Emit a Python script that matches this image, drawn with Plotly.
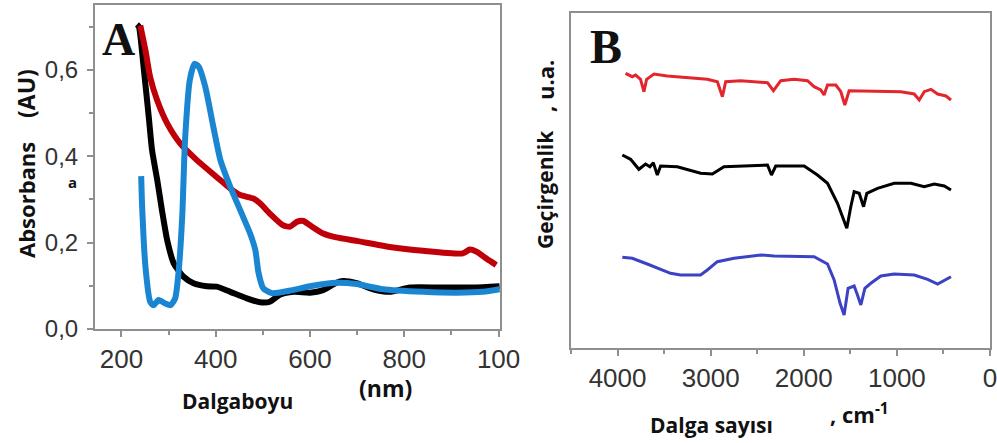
import plotly.graph_objects as go

# ---------------- Panel A: UV-Vis absorbance ----------------
a_black_nm = [233, 237, 247, 258, 265, 276, 286, 297, 311, 332, 353, 381, 402, 431, 466, 494, 515, 536, 565,
              600, 628, 656, 670, 699, 734, 769, 812, 875, 946, 1002]
a_black_abs = [0.705, 0.70, 0.607, 0.491, 0.414, 0.345, 0.275, 0.206, 0.152, 0.121, 0.106, 0.099, 0.098, 0.086,
               0.071, 0.062, 0.063, 0.079, 0.086, 0.084, 0.090, 0.107, 0.111, 0.106, 0.092, 0.086, 0.096, 0.096,
               0.096, 0.099]

a_red_nm = [240, 251, 261, 276, 297, 325, 360, 402, 431, 452, 480, 494, 515, 543, 558, 572, 586, 600, 628,
            656, 699, 769, 840, 924, 939, 953, 974, 995]
a_red_abs = [0.703, 0.645, 0.583, 0.529, 0.476, 0.429, 0.391, 0.352, 0.325, 0.310, 0.302, 0.291, 0.267, 0.240,
             0.237, 0.248, 0.250, 0.240, 0.221, 0.212, 0.204, 0.190, 0.181, 0.175, 0.184, 0.179, 0.163, 0.148]

a_blue_nm = [242, 244, 251, 261, 268, 279, 293, 304, 314, 321, 329, 335, 345, 355, 364, 378, 395, 410, 431,
             452, 473, 484, 491, 501, 519, 558, 600, 657, 699, 755, 840, 911, 967, 1002]
a_blue_abs = [0.354, 0.283, 0.144, 0.063, 0.055, 0.067, 0.059, 0.055, 0.071, 0.129, 0.260, 0.437, 0.576, 0.614,
              0.607, 0.560, 0.468, 0.391, 0.329, 0.275, 0.221, 0.183, 0.129, 0.094, 0.083, 0.089, 0.099, 0.107,
              0.104, 0.092, 0.086, 0.084, 0.086, 0.092]

a_xtick_vals = [200, 400, 600, 800, 1000]
a_xtick_text = ["200", "400", "600", "800", "100"]
a_ytick_vals = [0.0, 0.2, 0.4, 0.6]
a_ytick_text = ["0,0", "0,2", "0,4", "0,6"]

# ---------------- Panel B: FTIR transmittance (arb. units) ----------------
b_red_wn = [3914, 3842, 3806, 3753, 3717, 3688, 3609, 3466, 3036, 2928, 2874, 2839, 2677, 2390, 2326, 2247,
            2104, 1960, 1889, 1817, 1782, 1745, 1656, 1602, 1559, 1513, 957, 814, 760, 706, 634, 562, 473, 419]
b_red_t = [274.7, 271.3, 273, 268.7, 256.3, 268.7, 274, 272, 268.7, 266.3, 251.3, 266.3, 267.3, 265.3, 257.3,
           267.3, 268.7, 267.3, 261.3, 258, 253, 263, 263, 256.3, 243, 257.3, 256.3, 254, 248, 256.3, 258.7,
           254, 252, 248]

b_black_wn = [3949, 3860, 3771, 3699, 3653, 3616, 3573, 3538, 3358, 3108, 2982, 2857, 2390, 2347, 2301, 1996,
              1853, 1745, 1638, 1538, 1495, 1459, 1405, 1358, 1323, 1208, 1029, 849, 706, 599, 491, 419]
b_black_t = [193, 188.7, 178.7, 184, 181.3, 185.3, 173, 182, 181.3, 174.7, 174, 181.3, 183, 173, 182, 182, 173,
             164.7, 144.7, 119.7, 141.3, 156.3, 154.7, 141.3, 154.7, 159.7, 164.7, 164.7, 161.3, 164, 162, 158]

b_blue_wn = [3949, 3842, 3681, 3538, 3430, 3323, 3108, 3036, 2928, 2749, 2462, 2319, 1889, 1745, 1674, 1610,
             1567, 1524, 1459, 1430, 1387, 1344, 1280, 1172, 1029, 814, 670, 562, 491, 419]
b_blue_t = [90.7, 89.7, 84, 78.7, 74.7, 73, 73, 78, 86.3, 89.7, 93, 92, 91.3, 84, 68, 44.7, 33, 59.7, 62, 54.7,
            43, 59.7, 64.7, 72, 74, 73, 68.7, 64, 67.3, 71.3]

b_xtick_vals = [4000, 3000, 2000, 1000, 0]
b_xtick_text = ["4000", "3000", "2000", "1000", "0"]

W, H = 997, 443
AXIS_GREY = "#8f8f8f"
XTICK_FONT = dict(family="Liberation Sans, Arial, sans-serif", size=26, color="#333333")
YTICK_FONT = dict(family="Liberation Sans, Arial, sans-serif", size=24, color="#333333")
LBL_FONT = "Open Sans, sans-serif"


def px(x):
    return x / W


def py(y):
    return 1 - y / H


fig = go.Figure()

fig.add_trace(go.Scatter(x=a_black_nm, y=a_black_abs, mode="lines", line=dict(color="#000000", width=6, shape="spline", smoothing=0.6),
                         xaxis="x", yaxis="y", showlegend=False, hoverinfo="skip"))
fig.add_trace(go.Scatter(x=a_red_nm, y=a_red_abs, mode="lines", line=dict(color="#c00008", width=6, shape="spline", smoothing=0.6),
                         xaxis="x", yaxis="y", showlegend=False, hoverinfo="skip"))
fig.add_trace(go.Scatter(x=a_blue_nm, y=a_blue_abs, mode="lines", line=dict(color="#1a86d2", width=6, shape="spline", smoothing=0.6),
                         xaxis="x", yaxis="y", showlegend=False, hoverinfo="skip"))

fig.add_trace(go.Scatter(x=b_red_wn, y=b_red_t, mode="lines", line=dict(color="#e3262e", width=3),
                         xaxis="x2", yaxis="y2", showlegend=False, hoverinfo="skip"))
fig.add_trace(go.Scatter(x=b_black_wn, y=b_black_t, mode="lines", line=dict(color="#000000", width=3),
                         xaxis="x2", yaxis="y2", showlegend=False, hoverinfo="skip"))
fig.add_trace(go.Scatter(x=b_blue_wn, y=b_blue_t, mode="lines", line=dict(color="#3b42c4", width=3),
                         xaxis="x2", yaxis="y2", showlegend=False, hoverinfo="skip"))

common_axis = dict(showline=True, linecolor=AXIS_GREY, linewidth=2, mirror=True, showgrid=False, zeroline=False,
                   ticks="outside", ticklen=6, tickwidth=1.5, tickcolor=AXIS_GREY, automargin=False,
                   ticklabeloverflow="allow")

fig.update_layout(
    width=W, height=H,
    margin=dict(l=0, r=0, t=0, b=0, autoexpand=False),
    paper_bgcolor="white", plot_bgcolor="white",
    xaxis=dict(domain=[px(95), px(500)], range=[144, 1003], anchor="y",
               tickmode="array", tickvals=a_xtick_vals, ticktext=a_xtick_text, tickfont=XTICK_FONT,
               minor=dict(tickmode="linear", tick0=100, dtick=200, ticks="outside", ticklen=4, tickcolor=AXIS_GREY),
               **common_axis),
    yaxis=dict(domain=[py(329), py(5)], range=[0, 0.75], anchor="x",
               tickmode="array", tickvals=a_ytick_vals, ticktext=a_ytick_text, tickfont=YTICK_FONT,
               ticklabelstandoff=4,
               minor=dict(tickmode="linear", tick0=0.1, dtick=0.2, ticks="outside", ticklen=4, tickcolor=AXIS_GREY),
               **common_axis),
    xaxis2=dict(domain=[px(571), px(990)], range=[4500, 0], anchor="y2",
                tickmode="array", tickvals=b_xtick_vals, ticktext=b_xtick_text, tickfont=XTICK_FONT,
                minor=dict(tickmode="linear", tick0=500, dtick=1000, ticks="outside", ticklen=4, tickcolor=AXIS_GREY),
                **common_axis),
    yaxis2=dict(domain=[py(348), py(13)], range=[0, 335], anchor="x2",
                showline=True, linecolor=AXIS_GREY, linewidth=2, mirror=True, showgrid=False, zeroline=False,
                ticks="", showticklabels=False, automargin=False),
)

ann = []


def add_text(text, x, y, size, family=LBL_FONT, bold=True, angle=0, color="#111111"):
    t = f"<b>{text}</b>" if bold else text
    ann.append(dict(text=t, x=px(x), y=py(y), xref="paper", yref="paper", showarrow=False,
                    xanchor="center", yanchor="middle", textangle=angle,
                    font=dict(family=family, size=size, color=color)))


add_text("A", 118, 40, 46, family="Liberation Serif, Times New Roman, serif")
add_text("B", 606, 46, 48, family="Liberation Serif, Times New Roman, serif")
add_text("Absorbans", 26, 200, 22, angle=-90)
add_text("(AU)", 26, 94, 23, angle=-90)
add_text("a", 72, 182, 15)
add_text("Dalgaboyu", 237, 401, 21)
add_text("(nm)", 385, 388, 23)
add_text("Geçirgenlik", 545, 190, 21, angle=-90)
add_text(", u.a.", 545, 86, 22, angle=-90)
add_text("Dalga sayısı", 711, 425, 21)
add_text(", cm<sup>-1</sup>", 859, 413, 22)

fig.update_layout(annotations=ann)

fig.write_html("out.html", config={"displayModeBar": False},
               post_script="document.body.style.margin='0';document.body.style.overflow='hidden';")
